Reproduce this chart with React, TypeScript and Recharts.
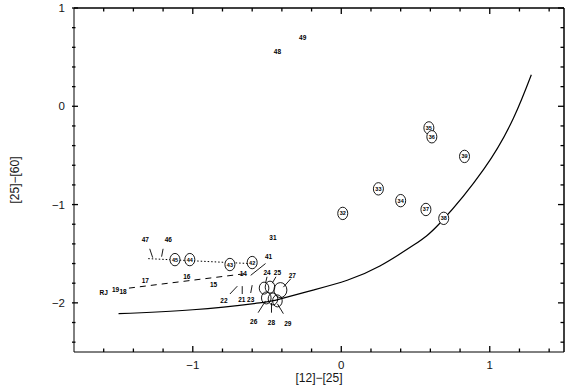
import React from "react";
import { ComposedChart, Line, Scatter, XAxis, YAxis, ReferenceLine } from "recharts";

// ringed sources, number drawn inside the ring
const ringed = [
  { x: -1.12, y: -1.56, label: "45" },
  { x: -1.02, y: -1.56, label: "44" },
  { x: -0.75, y: -1.61, label: "43" },
  { x: -0.6, y: -1.59, label: "42" },
  { x: 0.01, y: -1.09, label: "32" },
  { x: 0.25, y: -0.84, label: "33" },
  { x: 0.4, y: -0.96, label: "34" },
  { x: 0.57, y: -1.05, label: "37" },
  { x: 0.69, y: -1.14, label: "38" },
  { x: 0.59, y: -0.22, label: "35" },
  { x: 0.61, y: -0.31, label: "36" },
  { x: 0.83, y: -0.51, label: "39" },
];

// crowded group, numbers are put outside with leaders
const cluster = [
  { x: -0.52, y: -1.85 },
  { x: -0.48, y: -1.84 },
  { x: -0.505, y: -1.95 },
  { x: -0.46, y: -1.96 },
  { x: -0.43, y: -1.98 },
];
const wideRing = [{ x: -0.41, y: -1.87 }];

// plain text labels
const tags = [
  { x: -0.26, y: 0.7, label: "49" },
  { x: -0.43, y: 0.56, label: "48" },
  { x: -1.32, y: -1.36, label: "47" },
  { x: -1.165, y: -1.36, label: "46" },
  { x: -0.46, y: -1.33, label: "31" },
  { x: -0.49, y: -1.53, label: "41" },
  { x: -0.66, y: -1.7, label: "14" },
  { x: -1.04, y: -1.73, label: "16" },
  { x: -1.32, y: -1.77, label: "17" },
  { x: -0.86, y: -1.81, label: "15" },
  { x: -1.52, y: -1.86, label: "19" },
  { x: -1.47, y: -1.88, label: "18" },
  { x: -1.6, y: -1.89, label: "RJ" },
  { x: -0.79, y: -1.98, label: "22" },
  { x: -0.67, y: -1.97, label: "21" },
  { x: -0.61, y: -1.97, label: "23" },
  { x: -0.5, y: -1.69, label: "24" },
  { x: -0.43, y: -1.69, label: "25" },
  { x: -0.33, y: -1.72, label: "27" },
  { x: -0.59, y: -2.19, label: "26" },
  { x: -0.47, y: -2.2, label: "28" },
  { x: -0.36, y: -2.21, label: "29" },
];

// leader lines [x1, y1, x2, y2]
const leaders = [
  [-1.29, -1.45, -1.27, -1.54],
  [-1.2, -1.45, -1.21, -1.53],
  [-0.51, -1.6, -0.61, -1.72],
  [-0.5, -1.735, -0.51, -1.8],
  [-0.44, -1.735, -0.465, -1.8],
  [-0.34, -1.755, -0.39, -1.84],
  [-0.56, -2.1, -0.51, -1.98],
  [-0.47, -2.1, -0.47, -2.0],
  [-0.39, -2.11, -0.43, -2.01],
  [-0.75, -1.91, -0.7, -1.83],
  [-0.667, -1.91, -0.667, -1.83],
  [-0.61, -1.9, -0.6, -1.82],
];

const dottedTrack = [
  { x: -1.3, y: -1.55 },
  { x: -0.62, y: -1.6 },
];
const dashedTrack = [
  { x: -1.43, y: -1.85 },
  { x: -0.63, y: -1.7 },
];

// model curve
const curve = [
  { x: -1.5, y: -2.11 },
  { x: -1.0, y: -2.07 },
  { x: -0.55, y: -2.0 },
  { x: -0.41, y: -1.96 },
  { x: -0.19, y: -1.87 },
  { x: 0.04, y: -1.77 },
  { x: 0.26, y: -1.625 },
  { x: 0.49, y: -1.41 },
  { x: 0.67, y: -1.18 },
  { x: 0.96, y: -0.64 },
  { x: 1.16, y: -0.12 },
  { x: 1.28, y: 0.32 },
];

const xDomain = [-1.8, 1.5];
const yDomain = [-2.5, 1];
const xTicks = [-1.6, -1.4, -1.2, -1, -0.8, -0.6, -0.4, -0.2, 0, 0.2, 0.4, 0.6, 0.8, 1, 1.2, 1.4];
const yTicks = [-2.4, -2.2, -2, -1.8, -1.6, -1.4, -1.2, -1, -0.8, -0.6, -0.4, -0.2, 0, 0.2, 0.4, 0.6, 0.8, 1];

const ink = "black";
const font = "'Liberation Sans', Arial, sans-serif";

const isMajor = (v: number) => Math.abs(v - Math.round(v)) < 1e-6;
const fmt = (v: number) => String(Math.round(v)).replace("-", "\u2212");
const tickLen = (v: number) => (isMajor(v) ? 6 : 3.5);

const rightEdge = [{ x: xDomain[1], y: yDomain[0] }, { x: xDomain[1], y: yDomain[1] }];
const bottomMarks = xTicks.map((v) => ({ x: v, y: yDomain[0], v }));
const topMarks = xTicks.map((v) => ({ x: v, y: yDomain[1], v }));
const rightMarks = yTicks.map((v) => ({ x: xDomain[1], y: v, v }));

// inward tick mark drawn from the anchor point, dx/dy give the direction
const Mark = (dx: number, dy: number) => (props: any) => {
  const l = tickLen(props.payload.v);
  return <line x1={props.cx} y1={props.cy} x2={props.cx + dx * l} y2={props.cy + dy * l} stroke={ink} strokeWidth={1.3} />;
};

const BottomTick = ({ x, y, payload }: any) =>
  isMajor(payload.value) ? (
    <text x={x} y={y + 15} textAnchor="middle" fontSize={11.5} fontFamily={font} fill="#151515">
      {fmt(payload.value)}
    </text>
  ) : (
    <g />
  );
const LeftTick = ({ x, y, payload }: any) => (
  <g>
    <line x1={x} y1={y} x2={x + tickLen(payload.value)} y2={y} stroke={ink} strokeWidth={1.3} />
    {isMajor(payload.value) && (
      <text x={x - 7} y={y + 4} textAnchor="end" fontSize={11.5} fontFamily={font} fill="#151515">
        {fmt(payload.value)}
      </text>
    )}
  </g>
);

const Ring = (props: any) => {
  const { cx, cy, payload } = props;
  return (
    <g>
      <ellipse cx={cx} cy={cy} rx={5} ry={6.2} fill="#fff" stroke={ink} strokeWidth={0.9} />
      <text x={cx} y={cy} textAnchor="middle" dominantBaseline="central" fontSize={5.5} fontWeight="bold" fontFamily={font} fill={ink}>
        {payload.label}
      </text>
    </g>
  );
};

const EmptyRing = (rx: number, ry: number) => (props: any) => (
  <ellipse cx={props.cx} cy={props.cy} rx={rx} ry={ry} fill="none" stroke={ink} strokeWidth={0.9} />
);

const Tag = (props: any) => (
  <text x={props.cx} y={props.cy} textAnchor="middle" dominantBaseline="central" fontSize={6.5} fontWeight="bold" fontFamily={font} fill={ink}>
    {props.payload.label}
  </text>
);

export default function App() {
  return (
    <div style={{ width: 570, height: 386, background: "#fff" }}>
      <style>{"body{margin:0}"}</style>
      <ComposedChart width={570} height={386} margin={{ top: 8, right: 6, bottom: 0, left: 0 }}>
        <XAxis
          dataKey="x"
          type="number"
          domain={xDomain}
          ticks={xTicks}
          interval={0}
          tickSize={0}
          tickLine={false}
          tick={<BottomTick />}
          stroke={ink}
          height={34}
          label={{ value: "[12]\u2212[25]", position: "insideBottom", offset: 4, fill: "#151515", fontSize: 12, fontFamily: font }}
        />
        <YAxis
          type="number"
          domain={yDomain}
          ticks={yTicks}
          interval={0}
          tickSize={0}
          tickLine={false}
          tick={<LeftTick />}
          stroke={ink}
          width={74}
          label={{ value: "[25]\u2212[60]", angle: -90, position: "insideLeft", offset: 15, fill: "#151515", fontSize: 12, fontFamily: font, style: { textAnchor: "middle" } }}
        />

        {/* top edge of the frame */}
        <ReferenceLine segment={[{ x: xDomain[0], y: yDomain[1] }, { x: xDomain[1], y: yDomain[1] }]} stroke={ink} strokeWidth={1.5} ifOverflow="visible" />

        <Line data={curve} dataKey="y" type="natural" stroke={ink} strokeWidth={1.2} dot={false} isAnimationActive={false} />
        <Line data={dottedTrack} dataKey="y" type="linear" stroke={ink} strokeWidth={1} strokeDasharray="1.5 2" dot={false} isAnimationActive={false} />
        <Line data={dashedTrack} dataKey="y" type="linear" stroke={ink} strokeWidth={1} strokeDasharray="6 5" dot={false} isAnimationActive={false} />
        {/* right edge of the frame */}
        <Line data={rightEdge} dataKey="y" type="linear" stroke={ink} strokeWidth={1.5} dot={false} isAnimationActive={false} />

        {leaders.map((s, i) => (
          <ReferenceLine
            key={i}
            segment={[{ x: s[0], y: s[1] }, { x: s[2], y: s[3] }]}
            stroke={ink}
            strokeWidth={0.9}
            ifOverflow="visible"
          />
        ))}

        <Scatter data={cluster} dataKey="y" shape={EmptyRing(4.8, 6)} isAnimationActive={false} />
        <Scatter data={wideRing} dataKey="y" shape={EmptyRing(6.5, 7.5)} isAnimationActive={false} />
        <Scatter data={ringed} dataKey="y" shape={Ring} isAnimationActive={false} />
        <Scatter data={tags} dataKey="y" shape={Tag} isAnimationActive={false} />

        {/* inward ticks on bottom, top and right */}
        <Scatter data={bottomMarks} dataKey="y" shape={Mark(0, -1)} isAnimationActive={false} />
        <Scatter data={topMarks} dataKey="y" shape={Mark(0, 1)} isAnimationActive={false} />
        <Scatter data={rightMarks} dataKey="y" shape={Mark(-1, 0)} isAnimationActive={false} />
      </ComposedChart>
    </div>
  );
}
